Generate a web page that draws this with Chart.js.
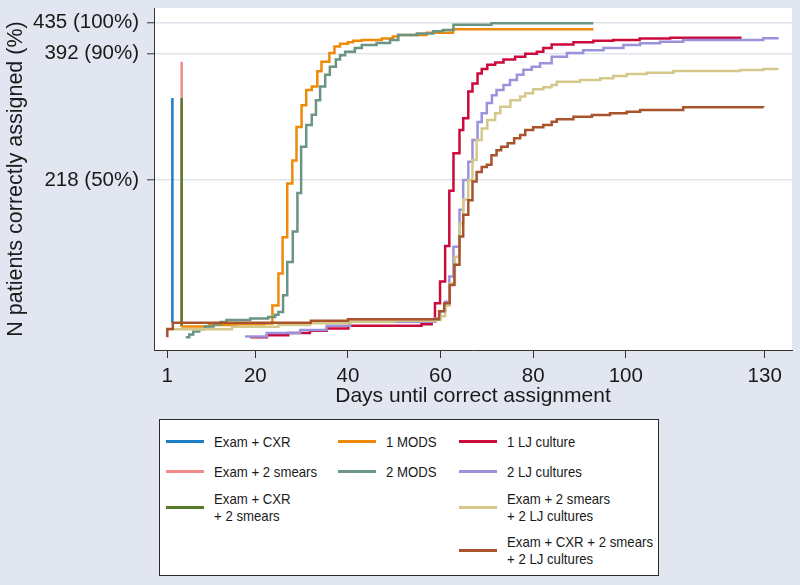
<!DOCTYPE html>
<html><head><meta charset="utf-8">
<script src="https://cdn.jsdelivr.net/npm/chart.js@4.4.1/dist/chart.umd.min.js"></script>
<style>
html,body{margin:0;padding:0;background:#e1e6f0;}
#wrap{position:relative;width:800px;height:585px;overflow:hidden;}
canvas{position:absolute;left:0;top:0;}
#legendBox{position:absolute;left:159px;top:419px;width:500px;height:157px;background:#fff;border:1px solid #2a2a2a;box-sizing:border-box;}
.sw{position:absolute;height:3px;width:38px;}
.lb{position:absolute;line-height:17px;white-space:nowrap;font-family:"Liberation Sans",Arial,sans-serif;font-size:15px;color:#1a1a1a;transform:scaleX(0.88);transform-origin:0 50%;}
</style></head><body>
<div id="wrap"><canvas id="c" width="800" height="585"></canvas><div id="legendBox"></div></div>
<script>
// ---- data (days until correct assignment, cumulative N patients) ----
const seriesNames = ["Exam + CXR","Exam + 2 smears","Exam + CXR\n+ 2 smears","1 MODS","2 MODS","1 LJ culture","2 LJ cultures","Exam + 2 smears\n+ 2 LJ cultures","Exam + CXR + 2 smears\n+ 2 LJ cultures"];
const xTickValues = [1,20,40,60,80,100,130];
const yTickValues = [218,392,435];
const yTickLabels = ["218 (50%)","392 (90%)","435 (100%)"];

const examCxrDays = [2.1, 2.1];
const examCxrN    = [21, 331];

const exam2SmearsDays = [4.1, 4.1];
const exam2SmearsN    = [16, 381];

const examCxr2SmearsDays = [4.1, 4.1];
const examCxr2SmearsN    = [16, 331];

const mods1Days = [4, 10, 16, 22, 23.7, 25, 25.9, 26.9, 28, 28.9, 30, 31, 32.2, 33.4, 34.3, 36, 37.1, 38.3, 40, 41.1, 43, 47.3, 49.7, 50.8, 57, 62.7, 93];
const mods1N    = [16, 18, 19, 20, 45, 89, 139, 213, 245, 291, 321, 342, 347, 368, 381, 393, 402, 406, 408, 410, 411, 413, 416, 418, 421, 426, 426];

const mods2Days = [5, 5.75, 6.6, 7.9, 9.1, 11, 12.5, 13.8, 18.9, 22.8, 24.3, 25, 26, 26.9, 28.1, 29.1, 29.9, 31, 32.2, 33.1, 34, 35.1, 36.1, 37.4, 38.3, 39.4, 41.5, 43, 46.2, 49.1, 50.9, 54.9, 58.4, 60.5, 62.8, 71, 93];
const mods2N    = [1, 5, 9, 12, 16, 19, 22, 25, 27, 29, 32, 36, 59, 105, 147, 200, 264, 294, 308, 328, 347, 363, 374, 384, 390, 395, 400, 404, 407, 411, 418, 420, 423, 425, 432, 434, 434];

const lj1Days = [18.9, 22.5, 27.1, 31.8, 35.4, 40.1, 55.9, 58.1, 58.8, 59.9, 61, 61.9, 62.8, 64.1, 64.9, 66, 66.9, 68, 68.9, 70.1, 71.8, 73.6, 76.1, 78.3, 80.8, 82.2, 84, 88.7, 93, 97.3, 103, 109.6, 125];
const lj1N    = [1, 4, 7, 10, 13, 17, 19, 22.5, 48, 78, 127, 203, 255, 287, 303, 340, 351, 365, 371, 377, 380, 384, 388, 392, 395, 400, 405, 408, 410, 411, 413, 414, 414];

const lj2Days = [17.8, 22.5, 29.7, 35.4, 40.5, 58.8, 59.9, 61, 61.9, 62.8, 64.1, 64.9, 66, 66.9, 68, 68.9, 70, 71.1, 72.1, 73.6, 75, 76.5, 77.9, 79.7, 81.5, 84, 87.3, 90.8, 95.2, 99.5, 103.1, 107.4, 112.4, 129.7, 133];
const lj2N    = [2, 7, 11, 17, 22.5, 27, 37, 50, 85, 126, 177, 218, 243, 273, 298, 310, 324, 335, 342, 349, 356, 363, 370, 374, 379, 388, 393, 397, 400, 404, 406.5, 408.7, 411, 413.4, 413.4];

const exam2SmLj2Days = [1.1, 15, 25, 31.8, 40.5, 50, 59, 60, 61, 62, 63.1, 64.1, 64.9, 66, 66.9, 67.8, 68.9, 70.1, 71.8, 72.9, 75.1, 77.2, 78.3, 80, 82.2, 84, 85.1, 90.1, 94.5, 97.3, 100.2, 104.5, 110.3, 124.7, 129.7, 133];
const exam2SmLj2N    = [12, 15.6, 18, 20.3, 22.5, 24, 25, 30, 45, 75.5, 112, 158, 191, 218, 245.5, 273, 289, 300.7, 310, 319, 328, 333, 337.6, 343, 345.8, 349, 353.6, 356, 358.2, 361.4, 364.2, 366, 368.3, 369.7, 371, 371];

const examCxr2SmLj2Days = [1, 1, 2.2, 32, 40, 59.7, 60.8, 62, 63, 64.1, 64.9, 66, 66.9, 67.8, 68.9, 70, 71, 72.1, 73.1, 74.5, 75.9, 77.2, 78.3, 80, 82.2, 84, 85.1, 88.7, 92.7, 96.6, 100.2, 103.1, 112.4, 129.7];
const examCxr2SmLj2N    = [1, 12.4, 21, 24, 26, 37, 48, 73, 101, 140, 170, 190, 216, 229, 236, 239, 252, 259, 264, 268.6, 275.5, 280, 287, 290.6, 293.8, 298.4, 301.7, 305.3, 307.6, 310, 312.2, 314.5, 318.2, 318];

const seriesColors = ["#1b7ec2","#f4898a","#567a2a","#ee8a0a","#6a9484","#cc0a3c","#9b92dc","#d4c98a","#a8532c"];

// ---- build ----
const allDays = [examCxrDays, exam2SmearsDays, examCxr2SmearsDays, mods1Days, mods2Days, lj1Days, lj2Days, exam2SmLj2Days, examCxr2SmLj2Days];
const allN = [examCxrN, exam2SmearsN, examCxr2SmearsN, mods1N, mods2N, lj1N, lj2N, exam2SmLj2N, examCxr2SmLj2N];

const datasets = seriesNames.map((name, i) => ({
  label: name.replace("\n", " "),
  data: allDays[i].map((d, j) => ({x: d, y: allN[i][j]})),
  borderColor: seriesColors[i],
  backgroundColor: seriesColors[i],
  borderWidth: 2.5,
  pointRadius: 0,
  stepped: true,
  fill: false,
  order: seriesNames.length - i
}));

const FONT = '"Liberation Sans", Arial, sans-serif';
const bgPlugin = {
  id: 'plotbg',
  beforeDraw(chart) {
    const {ctx, chartArea: a} = chart;
    ctx.save();
    ctx.fillStyle = '#ffffff';
    ctx.fillRect(a.left, a.top, a.right - a.left, a.bottom - a.top);
    ctx.restore();
  }
};

new Chart(document.getElementById('c'), {
  type: 'line',
  data: { datasets },
  plugins: [bgPlugin],
  options: {
    responsive: false,
    animation: false,
    events: [],
    layout: { padding: { left: 0, top: 8, right: 8, bottom: 175 } },
    plugins: { legend: { display: false }, tooltip: { enabled: false } },
    scales: {
      x: {
        type: 'linear', min: -1.87, max: 135.9,
        afterFit(s) { s.height = 60; s.paddingLeft = 0; s.paddingRight = 0; },
        afterBuildTicks(s) { s.ticks = xTickValues.map(v => ({value: v})); },
        ticks: { autoSkip: false, maxRotation: 0, padding: 6, color: '#1a1a1a', font: {family: FONT, size: 20.5}, callback: v => String(v) },
        grid: { drawOnChartArea: false, drawTicks: true, tickLength: 8, tickColor: '#333', tickWidth: 1 },
        border: { display: true, color: '#333', width: 1 },
        title: { display: true, text: 'Days until correct assignment', color: '#1a1a1a', font: {family: FONT, size: 21}, padding: {top: 0, bottom: 1} }
      },
      y: {
        type: 'linear', min: -16.5, max: 455.2,
        afterFit(s) { s.width = 154; s.paddingTop = 0; s.paddingBottom = 0; },
        afterBuildTicks(s) { s.ticks = yTickValues.map(v => ({value: v})); },
        ticks: { autoSkip: false, padding: 8, color: '#1a1a1a', font: {family: FONT, size: 20.5},
          callback: v => { const k = yTickValues.indexOf(v); return k >= 0 ? yTickLabels[k] : ''; } },
        grid: { color: '#dfe4ec', lineWidth: 1.6, drawTicks: true, tickLength: 7, tickColor: '#333', tickWidth: 1 },
        border: { display: true, color: '#333', width: 1 },
        title: { display: true, text: 'N patients correctly assigned (%)', color: '#1a1a1a', font: {family: FONT, size: 21.5}, padding: {top: 3, bottom: 0} }
      }
    }
  }
});

// ---- legend (HTML text) ----
const legendCols = [[166, 214], [338, 386], [459, 507]];
const legendRows = [441.7, 471.7, 507, 550];
const legendSlots = [[0,0],[0,1],[0,2],[1,0],[1,1],[2,0],[2,1],[2,2],[2,3]];
const wrap = document.getElementById('wrap');
seriesNames.forEach((name, i) => {
  const [c, r] = legendSlots[i];
  const yc = legendRows[r];
  const sw = document.createElement('div');
  sw.className = 'sw';
  sw.style.left = legendCols[c][0] + 'px';
  sw.style.top = (yc - 1.5) + 'px';
  sw.style.background = seriesColors[i];
  wrap.appendChild(sw);
  const lines = name.split('\n');
  const lb = document.createElement('div');
  lb.className = 'lb';
  lb.style.left = legendCols[c][1] + 'px';
  lb.style.top = (yc - lines.length * 17 / 2) + 'px';
  lines.forEach((t, k) => { if (k) lb.appendChild(document.createElement('br')); lb.appendChild(document.createTextNode(t)); });
  wrap.appendChild(lb);
});
</script>
</body></html>
